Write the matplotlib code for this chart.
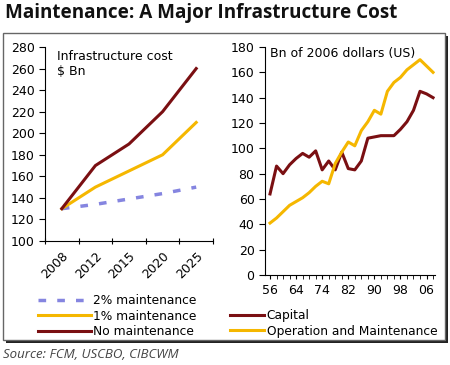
import numpy as np
import matplotlib
matplotlib.use("Agg")
import matplotlib.pyplot as plt
from matplotlib.patches import Rectangle

# left panel: infrastructure cost projections ($ Bn)
years = ["2008", "2012", "2015", "2020", "2025"]
two_pct = [130, 134, 139, 144, 150]
one_pct = [130, 150, 165, 180, 210]
no_maint = [130, 170, 190, 220, 260]

# right panel: spending, Bn of 2006 dollars (US)
period_labels = ["56", "64", "74", "82", "90", "98", "06"]
capital = [64, 86, 80, 87, 92, 96, 93, 98, 83, 90, 83, 97, 84, 83, 90, 108,
           109, 110, 110, 110, 115, 121, 130, 145, 143, 140]
operation = [41, 45, 50, 55, 58, 61, 65, 70, 74, 72, 88, 97, 105, 102, 114, 121,
             130, 127, 145, 152, 156, 162, 166, 170, 165, 160]

maroon = "#7a0f12"
gold = "#f5b700"
lav = "#8585e0"

W, H = 450, 365
fig = plt.figure(figsize=(W / 100, H / 100), dpi=100)
plt.rcParams["font.family"] = "DejaVu Sans"

def px(x0, y0, x1, y1):
    # pixel box -> figure fraction [left, bottom, width, height]
    return [x0 / W, 1 - y1 / H, (x1 - x0) / W, (y1 - y0) / H]

# frame with shadow
fig.patches.append(Rectangle((6 / W, 1 - 343 / H), 442 / W, 307 / H, transform=fig.transFigure,
                             facecolor="#222222", edgecolor="none", zorder=-3))
fig.patches.append(Rectangle((3 / W, 1 - 340 / H), 442 / W, 307 / H, transform=fig.transFigure,
                             facecolor="white", edgecolor="#666666", lw=1, zorder=-2))

fig.text(5 / W, 1 - 13 / H, "Maintenance: A Major Infrastructure Cost", fontsize=13.6,
         fontweight="bold", family="Open Sans", va="center", ha="left", color="#111111")
fig.text(3 / W, 1 - 354 / H, "Source: FCM, USCBO, CIBCWM", fontsize=9.5, style="italic",
         family="Open Sans", color="#444444", va="center", ha="left")

# ---- left panel
ax1 = fig.add_axes(px(45, 47, 213, 241))
ax1.set_facecolor("none")
xc = np.arange(len(years)) + 0.5
l2, = ax1.plot(xc, two_pct, color=lav, lw=2.5, dashes=(2.2, 3.2), label="2% maintenance")
l1, = ax1.plot(xc, one_pct, color=gold, lw=2.2, label="1% maintenance")
l0, = ax1.plot(xc, no_maint, color=maroon, lw=2.2, label="No maintenance")
ax1.set_xlim(0, 5)
ax1.set_ylim(100, 280)
ax1.set_yticks(range(100, 281, 20))
ax1.set_xticks(range(0, 6))
ax1.set_xticklabels([])
ax1.set_xticks(xc, minor=True)
ax1.set_xticklabels(years, minor=True, rotation=45, ha="right", rotation_mode="anchor")
ax1.tick_params(axis="x", which="minor", length=0, pad=6, labelsize=9)
ax1.tick_params(axis="x", which="major", length=4, direction="inout")
ax1.tick_params(axis="y", length=4, labelsize=9, pad=3.5)
for s in ["top", "right"]:
    ax1.spines[s].set_visible(False)
ax1.text(0.07, 0.985, "Infrastructure cost\n$ Bn", transform=ax1.transAxes, fontsize=9,
         va="top", ha="left", linespacing=1.25)

# ---- right panel
ax2 = fig.add_axes(px(265, 47, 435, 275))
ax2.set_facecolor("none")
xi = np.arange(len(capital))
r0, = ax2.plot(xi, capital, color=maroon, lw=2.2, label="Capital")
r1, = ax2.plot(xi, operation, color=gold, lw=2.2, label="Operation and Maintenance")
ax2.set_xlim(-0.77, 25.3)
ax2.set_ylim(0, 180)
ax2.set_yticks(range(0, 181, 20))
ax2.set_xticks(xi, minor=True)
ax2.set_xticks(np.arange(0, 25, 4))
ax2.set_xticklabels(period_labels)
ax2.tick_params(axis="x", which="both", length=3)
ax2.tick_params(axis="both", labelsize=9, pad=3.5)
ax2.tick_params(axis="y", length=4)
for s in ["top", "right"]:
    ax2.spines[s].set_visible(False)
ax2.text(0.03, 1.0, "Bn of 2006 dollars (US)", transform=ax2.transAxes, fontsize=9,
         va="top", ha="left")

# legends
fig.legend(handles=[l2, l1, l0], loc="upper left", bbox_to_anchor=(38 / W, 1 - 294 / H),
           frameon=False, fontsize=8.8, handlelength=4.3, handletextpad=0.2,
           labelspacing=0.22, borderpad=0, borderaxespad=0)
fig.legend(handles=[r0, r1], loc="upper left", bbox_to_anchor=(230 / W, 1 - 309 / H),
           frameon=False, fontsize=8.8, handlelength=2.8, handletextpad=0.2,
           labelspacing=0.22, borderpad=0, borderaxespad=0)

fig.savefig("out.png", dpi=100)
